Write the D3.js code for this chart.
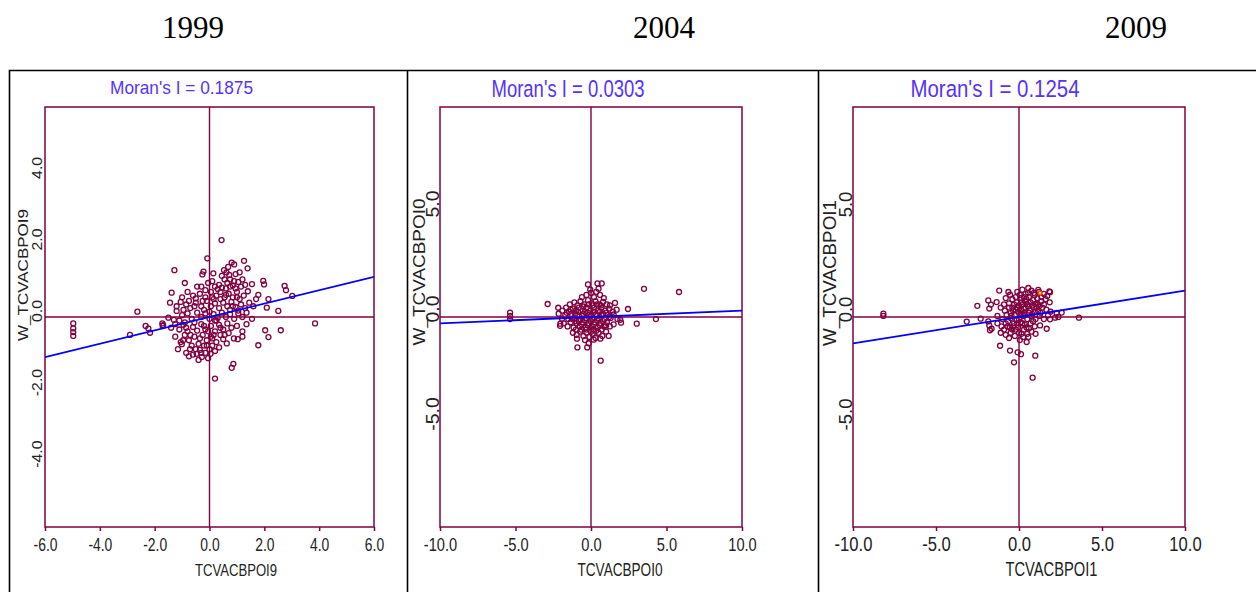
<!DOCTYPE html>
<html>
<head>
<meta charset="utf-8">
<script src="https://cdn.jsdelivr.net/npm/d3@7"></script>
<style>
  body { margin: 0; background: #fff; }
  svg { display: block; font-family: "Liberation Sans", Arial, sans-serif; }
</style>
</head>
<body>
<svg id="chart" width="1256" height="592"></svg>
<script>
// ---- data ----
var years = ["1999", "2004", "2009"];
var moransI = [0.1875, 0.0303, 0.1254];
var xVarNames = ["TCVACBPOI9", "TCVACBPOI0", "TCVACBPOI1"];
var yVarNames = ["W_TCVACBPOI9", "W_TCVACBPOI0", "W_TCVACBPOI1"];
var xRanges = [[-6, 6], [-10, 10], [-10, 10]];
var yRanges = [[-5.87, 5.87], [-10, 10], [-10, 10]];
var xTickValues = [[-6, -4, -2, 0, 2, 4, 6], [-10, -5, 0, 5, 10], [-10, -5, 0, 5, 10]];
var yTickValues = [[-4, -2, 0, 2, 4], [-5, 0, 5], [-5, 0, 5]];

var points1999 = [
  [-4.97,-0.18],[-4.97,-0.32],[-4.97,-0.42],[-4.97,-0.53],
  [-2.9,-0.5],[-2.63,0.15],[-2.33,-0.25],[-2.23,-0.32],[-2.17,-0.44],
  [-1.72,-0.18],[-1.69,-0.23],[-1.71,-0.25],
  [0.44,2.15],[-0.08,1.64],[-1.28,1.31],[-0.26,1.19],[-0.22,1.27],[0.14,1.22],[0.53,1.31],[0.62,1.25],[0.72,1.18],[0.81,1.52],[0.9,1.47],[0.95,1.2],[1.26,1.57],[1.39,1.36],
  [-0.9,0.95],[-0.3,0.85],[-0.05,0.95],[0.1,1.0],[0.2,0.85],[0.35,0.9],[0.45,0.82],[0.55,1.05],[0.6,0.8],[0.65,0.95],[0.75,1.05],[0.85,0.88],[0.95,0.8],[1.05,0.98],[1.15,0.85],[1.2,1.05],[1.3,0.9],[1.55,0.92],[1.96,1.01],[1.99,0.91],
  [-1.38,0.68],[-1.0,0.55],[-0.8,0.7],[-0.6,0.6],[-0.5,0.52],[-0.35,0.65],[-0.15,0.55],[0.05,0.7],[0.15,0.5],[0.25,0.6],[0.3,0.78],[0.4,0.7],[0.55,0.55],[0.7,0.65],[0.85,0.55],[1.0,0.7],[1.1,0.5],[1.25,0.6],[1.4,0.72],[1.7,0.5],[1.78,0.62],[2.15,0.5],[2.74,0.87],[2.79,0.75],[3.02,0.59],
  [-1.44,0.4],[-1.2,0.3],[-1.05,0.42],[-0.95,0.2],[-0.85,0.35],[-0.7,0.25],[-0.5,0.4],[-0.3,0.3],[-0.2,0.2],[-0.1,0.45],[0.05,0.3],[0.2,0.38],[0.35,0.25],[0.5,0.4],[0.65,0.3],[0.75,0.2],[0.8,0.42],[0.95,0.28],[1.05,0.18],[1.15,0.35],[1.3,0.25],[1.45,0.4],[1.6,0.3],[2.09,0.26],
  [-1.5,-0.02],[-1.3,-0.08],[-1.2,0.17],[-1.0,0.05],[-0.8,0.1],[-0.65,-0.05],[-0.45,0.12],[-0.3,0.0],[-0.15,0.1],[0.0,-0.05],[0.15,0.08],[0.2,-0.1],[0.3,-0.02],[0.45,0.12],[0.6,0.0],[0.75,0.08],[0.9,-0.05],[1.05,0.1],[1.2,0.0],[1.35,0.12],[1.55,-0.05],[2.51,0.17],[3.85,-0.18],
  [-1.4,-0.3],[-1.25,-0.2],[-1.1,-0.35],[-0.95,-0.22],[-0.8,-0.4],[-0.6,-0.28],[-0.45,-0.38],[-0.3,-0.2],[-0.15,-0.35],[0.05,-0.25],[0.2,-0.4],[0.35,-0.22],[0.5,-0.35],[0.65,-0.18],[0.8,-0.3],[1.0,-0.25],[1.2,-0.4],[1.35,-0.2],[2.03,-0.37],[2.6,-0.37],
  [-1.25,-0.55],[-1.05,-0.7],[-0.9,-0.5],[-0.75,-0.65],[-0.65,-0.8],[-0.55,-0.55],[-0.4,-0.75],[-0.25,-0.5],[-0.2,-0.8],[-0.1,-0.65],[0.05,-0.55],[0.1,-0.8],[0.25,-0.7],[0.4,-0.5],[0.5,-0.62],[0.63,-0.74],[0.89,-0.6],[1.03,-0.62],[1.2,-0.55],[1.78,-0.79],[2.15,-0.56],
  [-1.01,-0.76],[-0.96,-0.65],[-0.85,-1.0],[-0.71,-0.9],[-0.6,-1.05],[-0.47,-1.03],[-0.4,-1.2],[-0.35,-0.92],[-0.28,-1.12],[-0.15,-1.0],[-0.05,-1.15],[0.0,-0.9],[0.04,-1.03],[0.2,-0.95],[0.35,-0.85],
  [-0.9,-0.15],[-0.7,-0.5],[-0.55,-0.15],[-0.35,-0.6],[-0.2,-0.25],[-0.05,-0.4],[0.1,-0.6],[0.25,-0.1],[0.4,-0.3],[0.55,-0.5],[0.7,-0.45],
  [-0.75,0.45],[-0.55,0.3],[-0.25,0.45],[0.0,0.15],[0.1,0.55],[0.4,0.5],[0.6,0.62],[0.75,0.85],[0.9,1.0],[0.45,1.15],[0.68,1.4],[1.1,1.25],
  [-0.45,0.85],[-0.15,0.75],[0.85,0.3],[1.0,0.55],[-1.1,-0.1],[-0.5,-0.9],[-0.3,-1.0],[-0.1,-0.8],[0.15,-0.5],[-0.85,-0.3],[-1.15,-0.9],[-0.75,-1.1],
  [0.81,-1.42],[0.87,-1.31],[0.2,-1.72]
];

var points2004 = [
  [-5.36,0.21],[-5.36,0.05],[-5.36,-0.1],
  [-2.87,0.62],[-2.17,0.44],[-2.14,0.16],[-2.03,-0.32],[-2.05,-0.42],[-1.92,-0.08],
  [-0.2,1.55],[0.43,1.6],[0.71,1.6],[-0.05,1.3],[0.5,1.35],[0.35,1.2],[0.0,1.15],[-0.3,1.05],[0.6,1.05],[-0.6,0.95],[0.2,0.95],[0.85,0.9],
  [-1.4,0.6],[-1.1,0.7],[-0.9,0.55],[-0.7,0.75],[-0.5,0.5],[-0.45,0.6],[-0.2,0.8],[-0.15,0.6],[0.05,0.65],[0.1,0.55],[0.3,0.75],[0.4,0.6],[0.55,0.6],[0.65,0.55],[0.8,0.72],[1.05,0.6],[1.25,0.55],[1.59,0.67],
  [-1.9,0.3],[-1.65,0.45],[-1.45,0.25],[-1.2,0.4],[-1.0,0.3],[-0.8,0.45],[-0.55,0.3],[-0.3,0.45],[-0.05,0.3],[0.2,0.45],[0.45,0.3],[0.7,0.45],[0.95,0.3],[1.2,0.4],[1.45,0.25],[1.7,0.35],[2.45,0.38],
  [-1.6,0.2],[-1.35,0.35],[-1.05,0.15],[-0.85,0.25],[-0.6,0.05],[-0.4,0.25],[-0.2,0.2],[0.0,0.05],[0.2,0.25],[0.4,0.05],[0.6,0.25],[0.8,0.15],[1.0,0.2],[1.2,0.0],
  [-1.7,0.1],[-1.5,-0.1],[-1.3,0.15],[-1.1,-0.05],[-0.9,0.1],[-0.7,-0.1],[-0.5,0.15],[-0.3,-0.05],[-0.1,0.1],[0.1,-0.1],[0.3,0.12],[0.5,-0.05],[0.7,0.1],[0.9,-0.1],[1.1,0.1],[1.3,-0.05],[1.5,0.12],[1.75,-0.1],[1.94,-0.13],[4.3,-0.1],
  [-1.25,-0.1],[-1.0,-0.2],[-0.8,-0.2],[-0.6,-0.35],[-0.4,-0.15],[-0.2,-0.4],[0.0,-0.2],[0.2,-0.35],[0.4,-0.15],[0.6,-0.4],[0.8,-0.2],[1.0,-0.4],
  [-1.8,-0.3],[-1.55,-0.45],[-1.35,-0.25],[-1.15,-0.5],[-0.95,-0.3],[-0.75,-0.45],[-0.55,-0.25],[-0.35,-0.5],[-0.15,-0.3],[0.05,-0.45],[0.25,-0.25],[0.45,-0.5],[0.65,-0.3],[0.85,-0.45],[1.05,-0.25],[1.25,-0.45],[1.5,-0.35],[1.99,-0.27],[3.03,-0.32],[-1.0,-0.6],[0.15,-0.6],
  [-0.65,-0.6],[-0.3,-0.6],[0.35,-0.65],[0.7,-0.6],[0.0,-0.7],
  [-1.2,-0.75],[-0.95,-0.85],[-0.7,-0.7],[-0.5,-0.9],[-0.3,-0.75],[-0.1,-0.95],[0.1,-0.8],[0.3,-1.0],[0.5,-0.75],[0.75,-0.9],[1.0,-0.7],[1.17,-0.9],[-0.93,-1.03],[0.18,-1.08],[0.62,-1.03],[-0.4,-1.1],[-0.15,-1.25],
  [-0.9,-1.45],[-0.25,-1.45],[0.64,-2.08],[3.51,1.34],[5.83,1.19]
];

var points2009 = [
  [-8.17,0.16],[-8.17,0.05],[-3.15,-0.22],[-2.51,0.53],[-2.31,-0.08],[-1.85,-0.21],[3.61,-0.03],
  [-1.19,1.26],[-0.64,1.19],[-0.54,1.06],[-0.1,1.2],[0.05,1.05],[0.2,1.3],[0.4,1.1],[0.56,1.38],[0.75,1.25],[0.9,1.15],[0.95,1.05],[1.16,1.29],[1.2,1.19],[1.5,1.1],[1.83,1.22],[1.87,1.18],
  [-1.85,0.79],[-1.35,0.71],[-0.8,0.9],[-0.6,0.65],[-0.4,0.85],[-0.3,0.6],[-0.2,0.95],[-0.15,0.7],[0.1,0.9],[0.2,0.6],[0.3,0.95],[0.35,0.75],[0.5,0.6],[0.6,0.95],[0.7,0.7],[0.85,0.8],[1.0,0.62],[1.1,0.9],[1.15,0.6],[1.35,0.75],[1.5,0.6],[1.6,0.85],[1.85,0.7],
  [-1.69,0.59],[-1.79,0.4],[-1.1,0.45],[-0.9,0.6],[-0.85,0.3],[-0.6,0.45],[-0.5,0.2],[-0.35,0.3],[-0.2,0.35],[-0.1,0.45],[0.0,0.55],[0.15,0.3],[0.3,0.2],[0.4,0.45],[0.55,0.5],[0.65,0.3],[0.8,0.15],[0.9,0.45],[1.05,0.45],[1.15,0.3],[1.3,0.2],[1.4,0.45],[1.65,0.35],[1.9,0.25],[2.57,0.21],
  [-1.3,0.05],[-1.0,-0.1],[-0.75,0.1],[-0.5,-0.05],[-0.45,0.05],[-0.25,0.1],[-0.15,-0.15],[0.0,-0.1],[0.1,0.15],[0.25,0.05],[0.35,0.1],[0.5,-0.1],[0.75,0.05],[1.0,-0.1],[1.25,0.05],[1.5,-0.1],[1.75,0.08],[1.87,-0.11],[2.17,-0.03],[2.27,0.19],[2.37,0.0],
  [-1.79,-0.4],[-1.65,-0.56],[-1.75,-0.63],[-1.3,-0.3],[-1.05,-0.45],[-0.9,-0.6],[-0.8,-0.3],[-0.65,-0.2],[-0.55,-0.5],[-0.4,-0.6],[-0.3,-0.3],[-0.2,-0.6],[-0.05,-0.5],[0.1,-0.25],[0.2,-0.3],[0.3,-0.6],[0.45,-0.5],[0.7,-0.3],[0.85,-0.2],[0.95,-0.45],[1.27,-0.4],[1.67,-0.56],
  [-1.1,-0.75],[-0.8,-0.85],[-0.6,-1.0],[-0.5,-0.75],[-0.25,-0.9],[0.0,-0.75],[0.05,-1.1],[0.15,-0.8],[0.25,-0.95],[0.5,-0.8],[0.56,-0.95],[0.46,-1.19],[0.75,-0.7],[1.0,-0.8],
  [0.3,0.4],[0.6,0.2],[0.8,0.55],[1.2,0.5],[0.45,0.85],[0.95,0.25],[-0.05,0.25],[-0.4,0.45],[0.15,0.7],[0.55,1.15],[1.35,0.95],[1.7,1.0],
  [-0.7,-0.45],[-0.35,-0.45],[0.35,-0.35],[0.6,-0.55],[-0.1,-0.3],
  [-1.14,-1.37],[-0.54,-1.6],[-0.08,-1.68],[0.12,-1.77],[0.98,-1.84],[-0.3,-2.16],[0.82,-2.89]
];
// the one highlighted (selected) observation in 2009
var selected2009 = [[1.27, 1.14]];

var panelPoints = [points1999, points2004, points2009];
var panelSelected = [[], [], selected2009];

// ---- layout (pixel positions / text sizes per panel) ----
var panels = [
  { left: 45, right: 374, top: 107, bottom: 527, yearX: 193,
    titleX: 181.5, titleY: 93.5, titleFs: 19, titleW: 143,
    xtFs: 19, xtK: 0.73, xlX: 236, xlFs: 16.5, xlW: 82,
    ytFs: 14, ytK: 1.13, ytX: 37.5, ytUp: 6.5, ylX: 23, ylY: 275, ylFs: 14, ylLen: 132 },
  { left: 440, right: 742, top: 107, bottom: 527, yearX: 664,
    titleX: 568, titleY: 96.5, titleFs: 24.5, titleW: 153,
    xtFs: 19, xtK: 0.77, xlX: 620, xlFs: 19, xlW: 85,
    ytFs: 18, ytK: 1.08, ytX: 433, ytUp: 8.5, ylX: 419, ylY: 272, ylFs: 16.5, ylLen: 147 },
  { left: 853, right: 1185, top: 107, bottom: 527, yearX: 1136,
    titleX: 995, titleY: 96.5, titleFs: 24.5, titleW: 169,
    xtFs: 20, xtK: 0.83, xlX: 1051.5, xlFs: 20, xlW: 92,
    ytFs: 18.5, ytK: 1.0, ytX: 846, ytUp: 8, ylX: 830, ylY: 273, ylFs: 18, ylLen: 146 }
];

var ink = "#800040";
var svg = d3.select("#chart");

// plain hyphen instead of the unicode minus d3 uses by default
var fmt = function(v) { return d3.format(".1f")(v).replace("\u2212", "-"); };

// stretch / squeeze a text run to a given length
var fitTo = function(sel, len) {
  sel.attr("textLength", len).attr("lengthAdjust", "spacingAndGlyphs");
};
var scaleText = function(sel, k) {
  sel.each(function() {
    var len = this.getComputedTextLength();
    d3.select(this).attr("textLength", len * k).attr("lengthAdjust", "spacingAndGlyphs");
  });
};

// table frame around the three figures
svg.append("path")
  .attr("d", "M9.5,592V70.5H1256M407.5,70.5V592M818.5,70.5V592")
  .attr("fill", "none")
  .attr("stroke", "#000")
  .attr("stroke-width", 1.6);

var drawPanel = function(i) {
  var p = panels[i];
  var x = d3.scaleLinear().domain(xRanges[i]).range([p.left, p.right]);
  var y = d3.scaleLinear().domain(yRanges[i]).range([p.bottom, p.top]);
  var g = svg.append("g");

  // year heading
  svg.append("text")
    .attr("x", p.yearX).attr("y", 38)
    .attr("text-anchor", "middle")
    .style("font-family", "'Liberation Serif', 'Times New Roman', serif")
    .style("font-size", "31px")
    .attr("fill", "#000")
    .text(years[i]);

  svg.append("clipPath").attr("id", "clip" + i)
    .append("rect")
    .attr("x", p.left).attr("y", p.top)
    .attr("width", p.right - p.left).attr("height", p.bottom - p.top);

  // x axis with small ticks below the frame
  var xAxis = d3.axisBottom(x).tickValues(xTickValues[i]).tickSizeInner(4).tickSizeOuter(0)
    .tickFormat(fmt);
  var gx = g.append("g").attr("transform", "translate(0," + p.bottom + ")").call(xAxis);
  gx.select(".domain").remove();
  gx.selectAll(".tick line").attr("stroke", ink).attr("stroke-width", 1.5);
  gx.selectAll(".tick text")
    .attr("y", 24).attr("dy", null)
    .attr("fill", "#222")
    .style("font-family", "'Liberation Sans', Arial, sans-serif")
    .style("font-size", p.xtFs + "px")
    .call(scaleText, p.xtK);

  // y axis: rotated labels only
  var yAxis = d3.axisLeft(y).tickValues(yTickValues[i]).tickSize(0).tickFormat(fmt);
  var gy = g.append("g").attr("transform", "translate(" + p.left + ",0)").call(yAxis);
  gy.select(".domain").remove();
  gy.selectAll(".tick text")
    .attr("x", null).attr("dy", "0.35em")
    .attr("text-anchor", "middle")
    .attr("transform", "translate(" + (p.ytX - p.left) + "," + (-p.ytUp) + ") rotate(-90)")
    .attr("fill", "#222")
    .style("font-family", "'Liberation Sans', Arial, sans-serif")
    .style("font-size", p.ytFs + "px")
    .call(scaleText, p.ytK);

  // frame and quadrant lines
  g.append("rect")
    .attr("x", p.left).attr("y", p.top)
    .attr("width", p.right - p.left).attr("height", p.bottom - p.top)
    .attr("fill", "none").attr("stroke", ink).attr("stroke-width", 1.5);
  g.append("line")
    .attr("x1", x(0)).attr("x2", x(0)).attr("y1", p.top).attr("y2", p.bottom)
    .attr("stroke", ink).attr("stroke-width", 1.4);
  g.append("line")
    .attr("x1", p.left).attr("x2", p.right).attr("y1", y(0)).attr("y2", y(0))
    .attr("stroke", ink).attr("stroke-width", 1.4);

  // observations
  g.append("g").selectAll("circle")
    .data(panelPoints[i])
    .join("circle")
    .attr("cx", function(d) { return x(d[0]); })
    .attr("cy", function(d) { return y(d[1]); })
    .attr("r", 2.5)
    .attr("fill", "none")
    .attr("stroke", ink)
    .attr("stroke-width", 1.3);

  // regression line, slope = Moran's I
  var line = d3.line().x(function(d) { return x(d[0]); }).y(function(d) { return y(d[1]); });
  g.append("path")
    .attr("clip-path", "url(#clip" + i + ")")
    .attr("d", line(xRanges[i].map(function(v) { return [v, moransI[i] * v]; })))
    .attr("fill", "none")
    .attr("stroke", "#0000ff")
    .attr("stroke-width", 1.8);

  g.append("g").selectAll("circle")
    .data(panelSelected[i])
    .join("circle")
    .attr("cx", function(d) { return x(d[0]); })
    .attr("cy", function(d) { return y(d[1]); })
    .attr("r", 2)
    .attr("fill", "#ffd200")
    .attr("stroke", "#f03a10")
    .attr("stroke-width", 1.1);

  // Moran's I heading
  g.append("text")
    .attr("x", p.titleX).attr("y", p.titleY)
    .attr("text-anchor", "middle")
    .attr("fill", "#5533ff")
    .style("font-size", p.titleFs + "px")
    .text("Moran's I = " + moransI[i].toFixed(4))
    .call(fitTo, p.titleW);

  // variable names
  g.append("text")
    .attr("x", p.xlX).attr("y", p.bottom + 49)
    .attr("text-anchor", "middle")
    .attr("fill", "#222")
    .style("font-size", p.xlFs + "px")
    .text(xVarNames[i])
    .call(fitTo, p.xlW);
  g.append("text")
    .attr("transform", "translate(" + p.ylX + "," + p.ylY + ") rotate(-90)")
    .attr("dy", "0.35em")
    .attr("text-anchor", "middle")
    .attr("fill", "#222")
    .style("font-size", p.ylFs + "px")
    .text(yVarNames[i])
    .call(fitTo, p.ylLen);
};

years.forEach(function(yr, i) { drawPanel(i); });
</script>
</body>
</html>
